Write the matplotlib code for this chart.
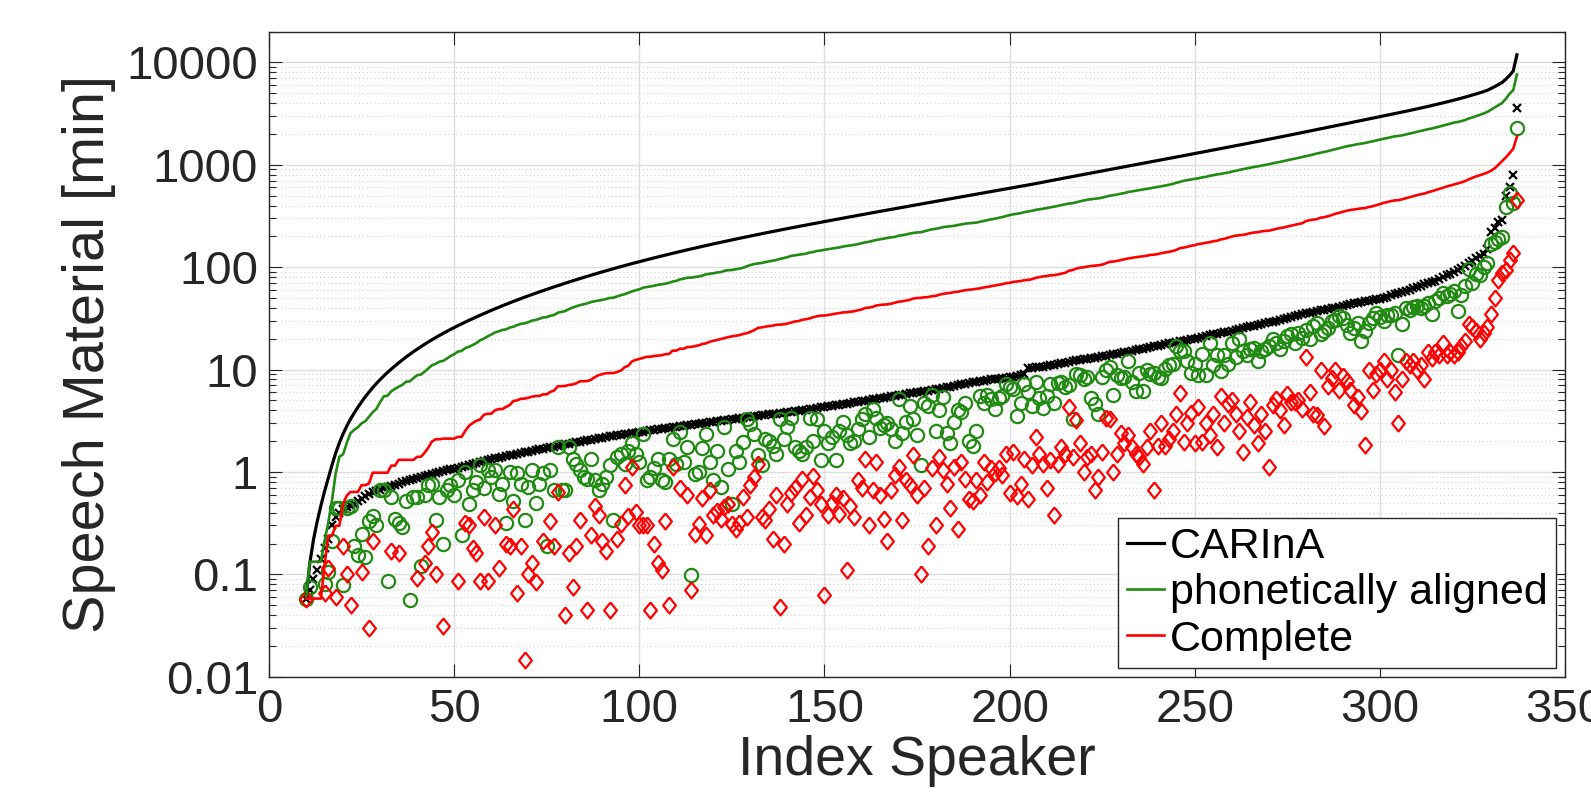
import numpy as np
import matplotlib
matplotlib.use("Agg")
import matplotlib.pyplot as plt
from matplotlib.ticker import LogLocator, NullLocator

plt.rcParams['font.family'] = ['Liberation Sans', 'DejaVu Sans']

# ── data: speech material per speaker [min], speakers sorted by CARInA total ──
FIRST_SPEAKER = 10   # speakers 1..9 have no material (not visible on log axis)

carina = [
    0.058, 0.07, 0.09, 0.11, 0.14, 0.18, 0.22, 0.30, 0.36, 0.40,
    0.43, 0.45, 0.47, 0.49, 0.52, 0.55, 0.58, 0.61, 0.63, 0.65,
    0.67, 0.69, 0.71, 0.73, 0.75, 0.77, 0.80, 0.82, 0.84, 0.86,
    0.88, 0.90, 0.92, 0.94, 0.96, 0.98, 1.00, 1.02, 1.04, 1.06,
    1.08, 1.10, 1.12, 1.14, 1.17, 1.19, 1.22, 1.24, 1.27, 1.30,
    1.33, 1.36, 1.38, 1.40, 1.43, 1.45, 1.47, 1.50, 1.52, 1.55,
    1.57, 1.60, 1.63, 1.66, 1.69, 1.71, 1.74, 1.77, 1.80, 1.83,
    1.86, 1.89, 1.92, 1.95, 1.98, 2.01, 2.04, 2.07, 2.10, 2.13,
    2.16, 2.19, 2.22, 2.25, 2.27, 2.30, 2.33, 2.36, 2.39, 2.42,
    2.45, 2.48, 2.51, 2.54, 2.57, 2.61, 2.64, 2.67, 2.70, 2.73,
    2.76, 2.79, 2.82, 2.85, 2.88, 2.91, 2.94, 2.98, 3.01, 3.05,
    3.08, 3.11, 3.14, 3.18, 3.22, 3.26, 3.30, 3.33, 3.37, 3.41,
    3.45, 3.49, 3.52, 3.56, 3.60, 3.64, 3.67, 3.71, 3.75, 3.78,
    3.82, 3.86, 3.90, 3.94, 3.99, 4.05, 4.10, 4.16, 4.21, 4.27,
    4.32, 4.37, 4.43, 4.49, 4.54, 4.60, 4.66, 4.72, 4.78, 4.84,
    4.91, 4.98, 5.05, 5.12, 5.19, 5.26, 5.33, 5.40, 5.47, 5.55,
    5.63, 5.70, 5.77, 5.85, 5.92, 6.00, 6.07, 6.15, 6.22, 6.30,
    6.40, 6.50, 6.60, 6.70, 6.80, 6.90, 7.00, 7.15, 7.30, 7.40,
    7.50, 7.60, 7.70, 7.80, 7.90, 8.00, 8.10, 8.15, 8.20, 8.30,
    8.45, 8.55, 8.70, 8.85, 9.00, 10.3, 10.4, 10.5, 10.6, 10.7,
    10.8, 11.0, 11.1, 11.3, 11.5, 11.7, 11.9, 12.1, 12.3, 12.5,
    12.6, 12.8, 13.0, 13.1, 13.3, 13.5, 13.7, 13.9, 14.1, 14.3,
    14.5, 14.7, 14.9, 15.1, 15.4, 15.7, 16.0, 16.3, 16.5, 16.8,
    17.1, 17.4, 17.7, 18.0, 18.3, 18.6, 18.9, 19.2, 19.5, 19.8,
    20.1, 20.4, 20.8, 21.2, 21.6, 22.0, 22.4, 22.7, 23.1, 23.5,
    23.9, 24.3, 24.8, 25.3, 25.9, 26.4, 26.9, 27.4, 27.9, 28.4,
    28.9, 29.3, 30.0, 30.7, 31.4, 32.0, 32.7, 33.4, 34.0, 34.7,
    35.4, 36.0, 36.6, 37.2, 37.8, 38.4, 39.0, 39.6, 40.3, 41.0,
    41.8, 42.6, 43.4, 44.2, 45.0, 45.8, 46.6, 47.2, 47.8, 48.4,
    49.0, 50.0, 51.5, 53.0, 54.5, 56.0, 57.0, 58.0, 60.0, 62.0,
    64.0, 66.0, 68.0, 70.0, 72.0, 74.0, 77.0, 80.0, 83.0, 86.0,
    90.0, 94.0, 98.0, 103, 109, 116, 122, 128, 135, 151,
    222, 240, 275, 290, 490, 600, 794, 3600,
]

aligned = [
    0.058, 0.075, 0, 0, 0, 0.08, 0.106, 0.21, 0.44, 0.44,
    0.079, 0.44, 0.46, 0.19, 0.155, 0.25, 0.148, 0.33, 0.37, 0.30,
    0.67, 0.67, 0.087, 0.57, 0.35, 0.32, 0.29, 0.52, 0.056, 0.57,
    0.57, 0.12, 0.59, 0.74, 0.77, 0.34, 0.57, 0.20, 0.66, 0.74,
    0.60, 0.83, 0.24, 1.0, 0.49, 0.66, 0.80, 1.16, 0.70, 1.04,
    0.90, 1.04, 0.61, 0.77, 0.32, 1.0, 0.52, 0.97, 0.77, 0.34,
    0.71, 1.04, 0.50, 0.77, 0.97, 0.19, 1.04, 0.66, 1.75, 0.66,
    0.66, 1.75, 1.35, 1.2, 1.04, 0.9, 0.86, 1.35, 0.83, 0.66,
    0.77, 0.9, 1.16, 0.34, 1.4, 1.5, 1.2, 1.6, 1.9, 1.5,
    1.25, 2.36, 0.83, 0.9, 1.1, 1.35, 0.83, 0.8, 1.35, 2.1,
    1.2, 2.45, 1.25, 1.75, 0.098, 0.96, 1.0, 1.7, 2.36, 1.25,
    0.83, 1.6, 0.71, 2.75, 1.08, 0.49, 1.6, 1.25, 1.96, 3.3,
    2.96, 2.36, 1.45, 1.16, 2.1, 2.0, 1.8, 1.5, 3.3, 2.1,
    2.75, 3.4, 1.75, 1.6, 1.5, 1.75, 3.4, 2.0, 3.3, 1.3,
    2.5, 1.9, 2.2, 1.3, 2.5, 3.07, 2.3, 1.9, 2.0, 2.6,
    3.3, 3.7, 2.2, 4.1, 3.4, 2.7, 2.9, 3.0, 2.6, 2.0,
    5.2, 2.4, 3.1, 4.4, 3.3, 2.3, 1.16, 4.7, 4.4, 5.6,
    2.5, 4.0, 5.4, 2.4, 1.9, 3.1, 4.0, 3.85, 4.7, 2.0,
    1.8, 2.5, 5.5, 4.7, 5.7, 5.1, 4.1, 5.3, 5.5, 7.3,
    6.8, 6.5, 3.5, 4.7, 7.3, 6.0, 4.4, 7.6, 5.3, 4.2,
    5.5, 7.3, 4.7, 7.4, 7.6, 6.8, 7.0, 3.3, 9.1, 8.8,
    8.0, 8.5, 5.3, 4.6, 3.7, 8.5, 10.0, 10.5, 5.7, 8.9,
    8.3, 8.5, 12.1, 7.5, 6.2, 9.3, 6.2, 10.0, 9.0, 9.3,
    8.5, 8.3, 10.2, 11.0, 11.4, 17.1, 15.3, 15.3, 12.0, 9.3,
    11.4, 8.9, 14.3, 8.9, 18.3, 11.0, 13.8, 9.6, 13.8, 11.4,
    18.3, 13.4, 19.7, 15.3, 14.0, 15.8, 16.4, 12.0, 15.3, 15.8,
    17.0, 19.7, 18.3, 15.8, 19.0, 21.2, 22.0, 18.0, 22.8, 20.4,
    24.6, 20.0, 26.5, 28.6, 22.0, 23.7, 25.6, 29.7, 30.8, 33.2,
    32.0, 27.0, 22.8, 25.6, 28.6, 19.0, 24.0, 28.6, 32.0, 35.8,
    32.6, 30.0, 34.0, 34.0, 36.0, 13.9, 28.0, 39.5, 38.0, 41.0,
    42.0, 40.0, 42.0, 45.0, 35.0, 47.0, 50.0, 56.0, 52.0, 55.0,
    58.0, 37.0, 54.0, 65.0, 95.0, 70.0, 85.0, 84.0, 100, 110,
    170, 178, 190, 198, 389, 525, 420, 2265,
]

complete = [
    0.058, 0, 0, 0, 0, 0.065, 0.115, 0, 0.06, 0,
    0.19, 0.10, 0.05, 0, 0, 0.105, 0, 0.03, 0.21, 0,
    0, 0, 0, 0.17, 0, 0.16, 0, 0, 0, 0,
    0.092, 0, 0.13, 0.19, 0.26, 0.10, 0, 0.031, 0, 0,
    0, 0.087, 0, 0.32, 0.30, 0.18, 0.16, 0.087, 0.36, 0.087,
    0, 0.30, 0.115, 0, 0.20, 0.19, 0.43, 0.066, 0.19, 0.0145,
    0.10, 0.13, 0.085, 0, 0.21, 0, 0.33, 0.19, 0.63, 0,
    0.04, 0.16, 0.075, 0.19, 0.34, 0, 0.045, 0.24, 0.47, 0.38,
    0.21, 0.17, 0.045, 0, 0.22, 0.31, 0.74, 0.37, 1.12, 0.41,
    0.3, 0.3, 0.3, 0.045, 0.2, 0.13, 0.11, 0.33, 0.05, 1.12,
    0, 0.69, 0, 0.6, 0.07, 0.25, 0.31, 0.56, 0.24, 0.66,
    0.38, 0.42, 0.35, 0.45, 0.49, 0.31, 0.28, 0.32, 0.57, 0.36,
    0.74, 0.9, 1.2, 0.36, 0.34, 0.43, 0.22, 0.6, 0.048, 0.2,
    0.49, 0.62, 0.69, 0.32, 0.86, 0.38, 0.57, 0.92, 0.66, 0.49,
    0.063, 0.38, 0.5, 0.6, 0.39, 0.56, 0.11, 0.47, 0.36, 0.83,
    0.7, 1.35, 0.3, 0.66, 1.25, 0.6, 0.35, 0.21, 0.66, 0.93,
    1.12, 0.34, 0.83, 0.75, 1.45, 0.6, 0.1, 0.69, 0.19, 1.1,
    0.3, 1.4, 1.04, 0.77, 0.44, 1.12, 0.28, 1.25, 0.86, 0.54,
    0.52, 0.83, 0.6, 1.25, 0.8, 1.1, 0.97, 1.1, 0.94, 1.5,
    0.62, 1.56, 0.58, 0.77, 1.35, 0.54, 1.16, 2.2, 1.5, 1.2,
    0.69, 1.3, 0.38, 1.2, 1.75, 1.5, 4.3, 1.4, 3.2, 1.9,
    1.0, 1.4, 1.5, 0.66, 0.9, 1.55, 3.4, 3.3, 1.0, 1.5,
    2.4, 1.9, 2.3, 1.75, 1.5, 1.4, 1.2, 1.75, 2.5, 0.66,
    1.8, 3.0, 1.8, 2.1, 2.5, 3.7, 5.9, 1.95, 3.0, 3.8,
    1.9, 4.3, 1.95, 3.0, 2.3, 3.7, 1.75, 5.5, 3.0, 4.6,
    5.0, 3.7, 2.5, 1.55, 3.45, 4.8, 2.9, 1.9, 3.7, 2.5,
    1.12, 4.5, 5.2, 4.0, 2.9, 5.8, 4.8, 4.8, 5.0, 4.1,
    13.4, 6.0, 3.7, 3.6, 9.9, 2.8, 6.9, 8.3, 9.9, 6.3,
    8.6, 7.7, 6.3, 4.5, 5.4, 3.9, 1.85, 9.9, 6.3, 9.0,
    10.0, 12.0, 8.0, 10.0, 6.0, 3.0, 8.0, 12.0, 11.0, 12.0,
    10.0, 11.0, 8.0, 15.0, 13.0, 15.0, 14.0, 18.0, 14.0, 15.0,
    14.0, 15.0, 17.0, 19.0, 28.0, 26.0, 24.0, 20.0, 23.0, 26.0,
    35.0, 50.0, 75.0, 87.0, 93.0, 117, 136, 450,
]

SERIES = ["CARInA", "phonetically aligned", "Complete"]
Y_TICKS = [0.01, 0.1, 1, 10, 100, 1000, 10000]
Y_TICKLABELS = ["0.01", "0.1", "1", "10", "100", "1000", "10000"]

# ── style ────────────────────────────────────────────────────────────────────
C_BLACK = "#000000"
C_GREEN = "#218a12"
C_RED   = "#ff0000"
C_AXIS  = "#262626"
DIAMOND = [(0, 1), (0.8, 0), (0, -1), (-0.8, 0), (0, 1)]

speaker = np.arange(FIRST_SPEAKER, FIRST_SPEAKER + len(carina))
carina_a   = np.array(carina, float)
aligned_a  = np.array(aligned, float)
complete_a = np.array(complete, float)


def visible(a):
    return np.where(a > 0, a, np.nan)


fig = plt.figure(figsize=(15.91, 8.09), dpi=100)
ax = fig.add_axes([0.1691, 0.1635, 0.8146, 0.7975])

# per-speaker markers
ax.plot(speaker, visible(carina_a), ls="none", marker="x", color=C_BLACK,
        ms=6, mew=1.6, zorder=3)
ax.plot(speaker, visible(aligned_a), ls="none", marker="o", mfc="none",
        mec=C_GREEN, ms=9.5, mew=1.6, zorder=3)
ax.plot(speaker, visible(complete_a), ls="none", marker=DIAMOND, mfc="none",
        mec=C_RED, ms=11.5, mew=1.6, zorder=3)

# cumulative material
ax.plot(speaker, np.cumsum(carina_a), color=C_BLACK, lw=2.3, label=SERIES[0], zorder=4)
ax.plot(speaker, np.cumsum(aligned_a), color=C_GREEN, lw=1.9, label=SERIES[1], zorder=4)
ax.plot(speaker, np.cumsum(complete_a), color=C_RED, lw=1.9, label=SERIES[2], zorder=4)

ax.set_yscale("log")
ax.set_ylim(0.01, 20000)
ax.set_xlim(0, 350)
ax.set_yticks(Y_TICKS)
ax.set_yticklabels(Y_TICKLABELS)
ax.yaxis.set_minor_locator(LogLocator(base=10, subs=np.arange(2, 10), numticks=20))
ax.set_xticks(np.arange(0, 351, 50))
ax.xaxis.set_minor_locator(NullLocator())

ax.set_axisbelow(True)
ax.grid(True, which="major", color="#dedede", lw=1.0, ls="-")
ax.grid(True, which="minor", axis="y", color="#c8c8c8", lw=0.7, ls=(0, (1, 3)))

ax.tick_params(which="both", direction="in", top=True, right=True,
               color=C_AXIS, labelcolor=C_AXIS, labelsize=34, width=0.8)
ax.tick_params(which="major", length=9.5, pad=8)
ax.tick_params(which="minor", length=5)
for s in ax.spines.values():
    s.set_color(C_AXIS)
    s.set_linewidth(1.0)

ax.set_xlabel("Index Speaker", fontsize=40, color=C_AXIS, labelpad=2)
ax.set_ylabel("Speech Material [min]", fontsize=41.5, color=C_AXIS, labelpad=7)

leg = ax.legend(loc="lower right", fontsize=31, frameon=True, fancybox=False,
                edgecolor=C_AXIS, framealpha=1, borderaxespad=0.2,
                handlelength=0.85, handletextpad=0.15, labelspacing=0.15,
                borderpad=0.2)
leg.get_frame().set_linewidth(1.0)
leg.set_zorder(10)

fig.savefig("out.png", dpi=100)
